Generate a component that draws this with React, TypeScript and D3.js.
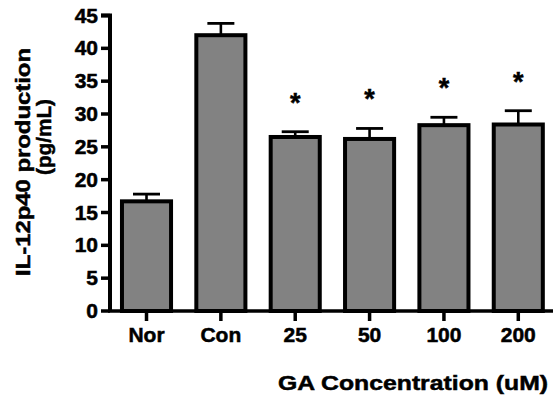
import React from "react";
import * as d3 from "d3";

const categories = ["Nor", "Con", "25", "50", "100", "200"];
const means = [16.7, 42.0, 26.5, 26.2, 28.3, 28.4];
const sems = [1.1, 1.8, 0.8, 1.6, 1.2, 2.1];
const significant = [false, false, true, true, true, true];
const yTicks = [0, 5, 10, 15, 20, 25, 30, 35, 40, 45];
const yLabelLine1 = "IL-12p40 production";
const yLabelLine2 = "(pg/mL)";
const xTitle = "GA Concentration (uM)";

const W = 553;
const H = 402;
const FONT = "'Liberation Sans', Arial, Helvetica, sans-serif";

export default function App() {
  const axisX = 110;
  const y = d3.scaleLinear().domain([0, 45]).range([311, 15.5]);
  const x = d3
    .scaleBand<string>()
    .domain(categories)
    .range([axisX, 554.8])
    .paddingInner(0.34)
    .paddingOuter(0.161);
  const bw = x.bandwidth();
  const capW = 27;
  const txt = { fill: "#000", stroke: "#000", strokeWidth: 0.5 };

  return (
    <svg
      width={W}
      height={H}
      viewBox={`0 0 ${W} ${H}`}
      style={{ position: "absolute", left: 0, top: 0, background: "#fff" }}
      fontFamily={FONT}
      fontWeight="bold"
    >
      {/* bars */}
      {categories.map((c, i) => {
        const x0 = x(c)!;
        const cx = x0 + bw / 2;
        const top = y(means[i]);
        const eTop = y(means[i] + sems[i]);
        return (
          <g key={c}>
            <line x1={cx} x2={cx} y1={top} y2={eTop} stroke="#000" strokeWidth={2.6} />
            <line x1={cx - capW / 2} x2={cx + capW / 2} y1={eTop} y2={eTop} stroke="#000" strokeWidth={2.8} />
            <rect
              x={x0}
              y={top}
              width={bw}
              height={y(0) - top}
              fill="#828282"
              stroke="#000"
              strokeWidth={4}
            />
            {significant[i] && (
              <text x={cx} y={eTop - 20} textAnchor="middle" fontSize={27} {...txt}>
                *
              </text>
            )}
          </g>
        );
      })}

      {/* y axis */}
      <path
        d={`M${axisX - 9},${y(45)} H${axisX} V${y(0)}`}
        fill="none"
        stroke="#000"
        strokeWidth={4}
      />
      {yTicks.map((t) => (
        <g key={t}>
          <line x1={axisX - 9} x2={axisX} y1={y(t)} y2={y(t)} stroke="#000" strokeWidth={3.5} />
          <text
            transform={`translate(${axisX - 12},${y(t) + 7}) scale(1.05,1)`}
            textAnchor="end"
            fontSize={20}
            {...txt}
          >
            {t}
          </text>
        </g>
      ))}

      {/* x axis */}
      <line x1={axisX - 2} x2={W} y1={y(0)} y2={y(0)} stroke="#000" strokeWidth={3.5} />
      {categories.map((c) => {
        const cx = x(c)! + bw / 2;
        return (
          <g key={"t" + c}>
            <line x1={cx} x2={cx} y1={y(0)} y2={y(0) + 10} stroke="#000" strokeWidth={3.5} />
            <text
              transform={`translate(${cx},342) scale(1.05,1)`}
              textAnchor="middle"
              fontSize={20}
              {...txt}
            >
              {c}
            </text>
          </g>
        );
      })}

      {/* x title */}
      <text
        x={278}
        y={390}
        fontSize={21}
        textLength={270}
        lengthAdjust="spacingAndGlyphs"
        {...txt}
      >
        {xTitle}
      </text>

      {/* y title */}
      <text
        transform={`translate(30,162) rotate(-90)`}
        textAnchor="middle"
        fontSize={21}
        textLength={228}
        lengthAdjust="spacingAndGlyphs"
        {...txt}
      >
        {yLabelLine1}
      </text>
      <text
        transform={`translate(51,137) rotate(-90)`}
        textAnchor="middle"
        fontSize={21}
        textLength={76}
        lengthAdjust="spacingAndGlyphs"
        {...txt}
      >
        {yLabelLine2}
      </text>
    </svg>
  );
}
